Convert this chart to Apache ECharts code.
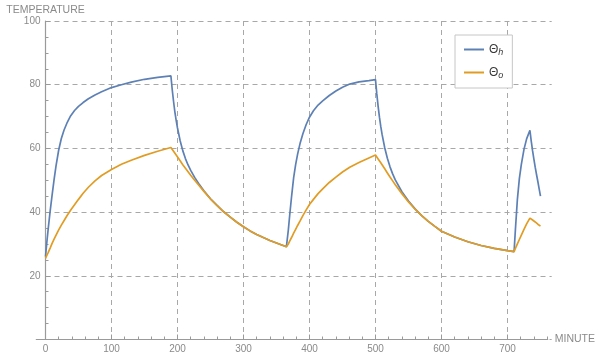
<!DOCTYPE html>
<html>
<head>
<meta charset="utf-8">
<script src="https://cdn.jsdelivr.net/npm/echarts@6/dist/echarts.min.js"></script>
<style>
  html, body { margin: 0; padding: 0; background: #ffffff; }
  #chart { width: 598px; height: 358px; }
</style>
</head>
<body>
<div id="chart"></div>
<script>
// Sampling instants (minutes) shared by both temperature traces
const minutes = [
  0, 2, 4, 7, 10, 13, 16, 20, 24, 28, 33, 38, 44, 50, 57, 65, 75, 85, 100, 115, 130, 150, 170, 190,
  192, 194, 196, 198, 200, 204, 208, 212, 216, 220, 226, 232, 240, 250, 260, 270, 280, 290, 300, 310, 320, 330, 340, 350, 365,
  368, 370, 373, 376, 379, 382, 386, 390, 395, 400, 406, 413, 420, 430, 440, 450, 461, 475, 490, 500,
  502, 504, 506, 508, 510, 514, 518, 522, 526, 530, 540, 550, 560, 570, 580, 590, 600, 620, 640, 660, 680, 700, 710,
  712, 715, 718, 721, 725, 729, 734, 736, 738, 740, 742, 744, 746, 748, 750
];

// Θh temperature
const thetaH = [
  26.0, 30.5, 34.6, 40.2, 45.3, 50.2, 54.6, 59.5, 63.1, 65.7, 68.2, 70.2, 71.9, 73.2, 74.4, 75.6, 76.8, 77.8, 79.1, 80.0, 80.8, 81.7, 82.3, 82.8,
  78.5, 74.8, 71.5, 68.8, 66.4, 62.4, 59.3, 56.8, 54.8, 53.1, 50.9, 49.0, 46.7, 44.2, 42.1, 40.1, 38.4, 36.8, 35.4, 34.1, 33.0, 32.0, 31.1, 30.3, 29.1,
  34.5, 39.0, 45.2, 50.8, 54.9, 58.2, 61.8, 64.6, 67.5, 69.8, 71.8, 73.6, 74.9, 76.6, 78.0, 79.2, 80.2, 80.9, 81.3, 81.6,
  77.1, 73.2, 69.8, 66.9, 64.4, 60.2, 56.9, 54.2, 52.0, 50.1, 46.4, 43.5, 41.0, 38.9, 37.1, 35.5, 34.0, 32.2, 30.7, 29.5, 28.6, 27.9, 27.6,
  34.5, 44.0, 50.5, 55.0, 59.7, 63.0, 65.7, 62.3, 59.3, 56.6, 54.1, 51.8, 49.6, 47.3, 45.0
];

// Θo temperature
const thetaO = [
  25.5, 26.4, 27.3, 28.7, 30.2, 31.5, 32.8, 34.4, 35.9, 37.3, 39.0, 40.6, 42.3, 44.0, 45.9, 47.8, 49.8, 51.5, 53.4, 55.0, 56.3, 57.8, 59.1, 60.3,
  59.7, 59.1, 58.5, 57.9, 57.3, 56.1, 54.9, 53.8, 52.7, 51.6, 50.0, 48.5, 46.5, 44.1, 42.0, 40.1, 38.4, 36.8, 35.4, 34.1, 33.0, 32.0, 31.1, 30.3, 29.1,
  30.0, 30.9, 32.1, 33.4, 34.6, 35.8, 37.3, 38.9, 40.7, 42.4, 44.0, 45.8, 47.3, 49.3, 51.0, 52.6, 54.1, 55.6, 57.0, 57.9,
  57.3, 56.7, 56.1, 55.5, 54.9, 53.6, 52.3, 51.0, 49.8, 48.6, 45.8, 43.2, 40.9, 38.9, 37.1, 35.5, 34.0, 32.2, 30.7, 29.5, 28.6, 27.9, 27.6,
  28.6, 30.0, 31.4, 32.8, 34.6, 36.3, 38.1, 37.8, 37.5, 37.2, 36.9, 36.5, 36.2, 35.9, 35.6
];

// Axis ticks and labels
const minuteLabels = [0, 100, 200, 300, 400, 500, 600, 700];
const minuteMajorTicks = [100, 200, 300, 400, 500, 600, 700];
const minuteMinorTicks = [0, 20, 40, 60, 80, 100, 120, 140, 160, 180, 200, 220, 240, 260, 280, 300, 320, 340, 360,
  380, 400, 420, 440, 460, 480, 500, 520, 540, 560, 580, 600, 620, 640, 660, 680, 700, 720, 740, 760];
const minuteAxisStart = -14;
const minuteAxisEnd = 767;
const tempMin = 0;
const tempMax = 100;
const tempStep = 20;

const seriesNames = ['Θh', 'Θo'];
const seriesColors = ['#5e81b5', '#e19c24'];

const axisColor = '#9a9a9a';
const gridColor = '#a8a8a8';
const labelColor = '#8a8a8a';
const fontFamily = '"Liberation Sans", Arial, sans-serif';

const pairs = (xs, ys) => xs.map((x, i) => [x, ys[i]]);

const chart = echarts.init(document.getElementById('chart'), null, { renderer: 'canvas' });

chart.setOption({
  animation: false,
  backgroundColor: '#ffffff',
  color: seriesColors,
  textStyle: { fontFamily: fontFamily },
  grid: [
    { left: 45.5, right: 46.3, top: 21, bottom: 18.5 },
    { left: 36.3, right: 46.3, top: 21, bottom: 18.5 }
  ],
  legend: {
    left: 455,
    top: 35,
    orient: 'vertical',
    padding: [7, 9, 8, 9],
    itemGap: 8,
    itemWidth: 20,
    itemHeight: 2,
    icon: 'rect',
    backgroundColor: '#ffffff',
    borderColor: '#c6c6c6',
    borderWidth: 1,
    data: seriesNames,
    formatter: (name) => '{b|' + name.charAt(0) + '}{s|' + name.slice(1) + '}',
    textStyle: {
      color: '#3a3a3a',
      rich: {
        b: { fontSize: 12, color: '#3a3a3a', fontFamily: fontFamily, lineHeight: 14 },
        s: { fontSize: 9, fontStyle: 'italic', color: '#3a3a3a', fontFamily: fontFamily, padding: [6, 0, 0, 0], lineHeight: 14 }
      }
    }
  },
  xAxis: [
    {
      type: 'value', gridIndex: 0, min: 0, max: minuteAxisEnd, position: 'bottom',
      axisLine: { show: false },
      axisTick: { show: true, inside: true, length: 3, customValues: minuteMinorTicks, lineStyle: { color: axisColor } },
      axisLabel: { customValues: minuteLabels, color: labelColor, fontSize: 10, margin: 5 },
      splitLine: { show: false }
    },
    {
      type: 'value', gridIndex: 0, min: 0, max: minuteAxisEnd, position: 'bottom',
      axisLine: { show: false },
      axisTick: { show: true, inside: true, length: 5, customValues: minuteMajorTicks, lineStyle: { color: axisColor } },
      axisLabel: { show: false },
      splitLine: { show: true, lineStyle: { color: gridColor, width: 1, type: [5, 4] } }
    },
    {
      type: 'value', gridIndex: 1, min: minuteAxisStart, max: minuteAxisEnd, position: 'bottom',
      name: 'MINUTE', nameLocation: 'end', nameGap: 7,
      nameTextStyle: { color: labelColor, fontSize: 10.5, align: 'left', verticalAlign: 'middle' },
      axisLine: { show: true, onZero: false, lineStyle: { color: axisColor, width: 1.2 } },
      axisTick: { show: false },
      axisLabel: { show: false },
      splitLine: { show: false }
    }
  ],
  yAxis: [
    {
      type: 'value', gridIndex: 0, min: tempMin, max: tempMax, interval: tempStep,
      name: 'TEMPERATURE', nameLocation: 'end', nameGap: 11,
      nameTextStyle: { color: labelColor, fontSize: 10.5, align: 'center', verticalAlign: 'middle' },
      axisLine: { show: true, onZero: false, lineStyle: { color: axisColor, width: 1.2 } },
      axisTick: { show: true, inside: true, length: 5, lineStyle: { color: axisColor } },
      minorTick: { show: true, splitNumber: 4, length: 3, lineStyle: { color: axisColor } },
      axisLabel: { showMinLabel: false, color: labelColor, fontSize: 10, margin: 5 },
      splitLine: { show: true, lineStyle: { color: gridColor, width: 1, type: [5, 4] } }
    },
    {
      type: 'value', gridIndex: 1, min: tempMin, max: tempMax, show: false
    }
  ],
  series: [
    {
      name: seriesNames[0], type: 'line', xAxisIndex: 0, yAxisIndex: 0,
      data: pairs(minutes, thetaH), showSymbol: false, symbol: 'none',
      lineStyle: { color: seriesColors[0], width: 1.7 }, itemStyle: { color: seriesColors[0] }
    },
    {
      name: seriesNames[1], type: 'line', xAxisIndex: 0, yAxisIndex: 0,
      data: pairs(minutes, thetaO), showSymbol: false, symbol: 'none',
      lineStyle: { color: seriesColors[1], width: 1.7 }, itemStyle: { color: seriesColors[1] }
    }
  ]
});
</script>
</body>
</html>
